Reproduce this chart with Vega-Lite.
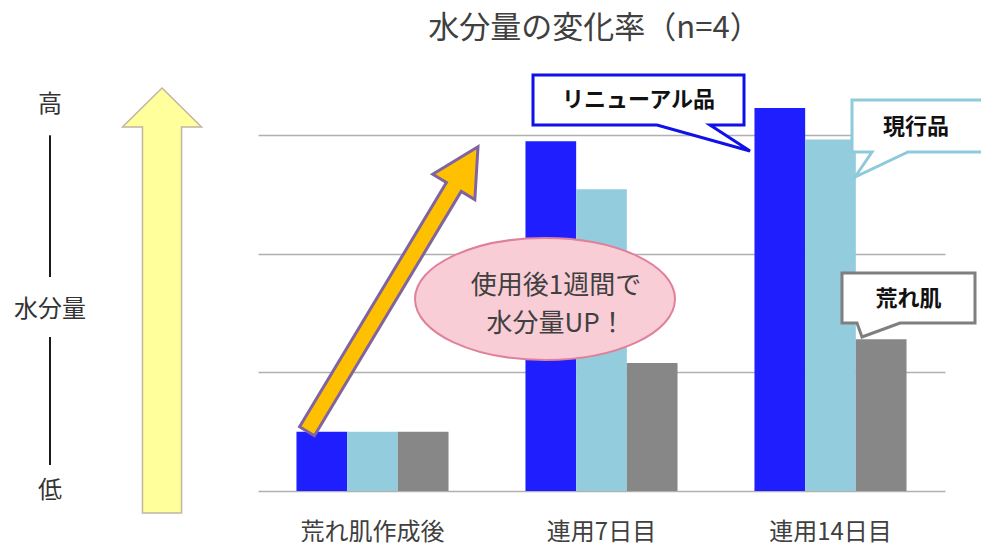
{
  "$schema": "https://vega.github.io/schema/vega-lite/v6.json",
  "width": 687,
  "height": 415,
  "autosize": {"type": "none"},
  "padding": {"left": 258, "top": 76, "right": 36, "bottom": 60},
  "background": "white",
  "config": {"view": {"stroke": null}, "font": "Noto Sans CJK JP"},
  "title": {"text": "水分量の変化率（n=4）", "anchor": "middle", "frame": "group", "fontSize": 31, "fontWeight": "normal", "color": "#404040", "font": "Noto Sans CJK JP", "offset": 24, "dx": -7},
  "layer": [
    {
      "data": {"values": [
        {"timepoint": "荒れ肌作成後", "product": "リニューアル品", "value": 0.5},
        {"timepoint": "荒れ肌作成後", "product": "現行品", "value": 0.5},
        {"timepoint": "荒れ肌作成後", "product": "荒れ肌", "value": 0.5},
        {"timepoint": "連用7日目", "product": "リニューアル品", "value": 2.95},
        {"timepoint": "連用7日目", "product": "現行品", "value": 2.545},
        {"timepoint": "連用7日目", "product": "荒れ肌", "value": 1.08},
        {"timepoint": "連用14日目", "product": "リニューアル品", "value": 3.23},
        {"timepoint": "連用14日目", "product": "現行品", "value": 2.965},
        {"timepoint": "連用14日目", "product": "荒れ肌", "value": 1.28}
      ]},
      "mark": {"type": "bar"},
      "encoding": {
        "x": {"field": "timepoint", "type": "nominal", "sort": ["荒れ肌作成後", "連用7日目", "連用14日目"],
              "scale": {"paddingInner": 0.336, "paddingOuter": 0.168},
              "axis": {"title": null, "labelAngle": 0, "ticks": false, "domain": false, "labelFontSize": 24, "labelColor": "#404040", "labelFont": "Noto Sans CJK JP", "labelPadding": 41, "labelBaseline": "middle"}},
        "xOffset": {"field": "product", "type": "nominal", "sort": ["リニューアル品", "現行品", "荒れ肌"]},
        "y": {"field": "value", "type": "quantitative", "title": null, "scale": {"domain": [0, 3.5], "nice": false},
              "axis": {"title": null, "values": [0, 1, 2, 3], "labels": false, "ticks": false, "domain": false, "grid": true, "gridColor": "#b0b0b0", "gridWidth": 1.5, "minExtent": 0}},
        "color": {"field": "product", "type": "nominal", "sort": ["リニューアル品", "現行品", "荒れ肌"],
                  "scale": {"domain": ["リニューアル品", "現行品", "荒れ肌"], "range": ["#1e1eff", "#93cddd", "#878787"]}, "legend": null}
      }
    },
    {
      "data": {"values": [
        {"x": -0.9083, "y": 3.0, "y2": 1.8048},
        {"x": -0.9083, "y": 1.2988, "y2": 0.2193}
      ]},
      "mark": {"type": "rule", "stroke": "#1a1a1a", "strokeWidth": 2},
      "encoding": {
        "x": {"field": "x", "type": "quantitative", "scale": {"domain": [0, 3], "nice": false, "zero": false}, "axis": null},
        "y": {"field": "y", "type": "quantitative", "title": null},
        "y2": {"field": "y2"}
      }
    },
    {
      "data": {"values": [{"x": -0.4192, "y": 1.6067}]},
      "mark": {"type": "point", "filled": true, "fill": "#ffff9c", "stroke": "#c4b4a4", "strokeWidth": 1.5, "opacity": 1, "size": 180625,
               "shape": "M0,-1 L0.186,-0.816 L0.092,-0.816 L0.092,1 L-0.092,1 L-0.092,-0.816 L-0.186,-0.816 Z"},
      "encoding": {
        "x": {"field": "x", "type": "quantitative", "scale": {"domain": [0, 3], "nice": false, "zero": false}, "axis": null},
        "y": {"field": "y", "type": "quantitative", "title": null}
      }
    },
    {
      "data": {"values": [{"x": 1.2533, "y": 1.6193}]},
      "mark": {"type": "point", "filled": true, "fill": "#f8cdd6", "stroke": "#e0809a", "strokeWidth": 2, "opacity": 1, "size": 67600,
               "shape": "M1,0 A1,0.469 0 1,1 -1,0 A1,0.469 0 1,1 1,0 Z"},
      "encoding": {
        "x": {"field": "x", "type": "quantitative", "scale": {"domain": [0, 3], "nice": false, "zero": false}, "axis": null},
        "y": {"field": "y", "type": "quantitative", "title": null}
      }
    },
    {
      "data": {"values": [{"x": 0.5873, "y": 1.7036}]},
      "mark": {"type": "point", "filled": true, "fill": "#ffc000", "stroke": "#8064a2", "strokeWidth": 3, "opacity": 1, "size": 110224, "angle": 31,
               "shape": "M0,-1 L0.148,-0.717 L0.052,-0.717 L0.052,1 L-0.052,1 L-0.052,-0.717 L-0.148,-0.717 Z"},
      "encoding": {
        "x": {"field": "x", "type": "quantitative", "scale": {"domain": [0, 3], "nice": false, "zero": false}, "axis": null},
        "y": {"field": "y", "type": "quantitative", "title": null}
      }
    },
    {
      "data": {"values": [{"x": 1.6616, "y": 3.2976}]},
      "mark": {"type": "point", "filled": true, "fill": "white", "stroke": "#1010e8", "strokeWidth": 3, "opacity": 1, "size": 400,
               "shape": "M-10.55,-2.5 L10.55,-2.5 L10.55,2.5 L7.15,2.5 L11.15,5.1 L1.85,2.5 L-10.55,2.5 Z"},
      "encoding": {
        "x": {"field": "x", "type": "quantitative", "scale": {"domain": [0, 3], "nice": false, "zero": false}, "axis": null},
        "y": {"field": "y", "type": "quantitative", "title": null}
      }
    },
    {
      "data": {"values": [{"x": 2.8734, "y": 3.0783}]},
      "mark": {"type": "point", "filled": true, "fill": "white", "stroke": "#8fcadb", "strokeWidth": 3, "opacity": 1, "size": 400,
               "shape": "M9,-2.6 L-6.4,-2.6 L-6.4,2.6 L-4.4,2.6 L-6.1,5.1 L-0.8,2.6 L9,2.6"},
      "encoding": {
        "x": {"field": "x", "type": "quantitative", "scale": {"domain": [0, 3], "nice": false, "zero": false}, "axis": null},
        "y": {"field": "y", "type": "quantitative", "title": null}
      }
    },
    {
      "data": {"values": [{"x": 2.8406, "y": 1.6277}]},
      "mark": {"type": "point", "filled": true, "fill": "white", "stroke": "#7f7f7f", "strokeWidth": 3, "opacity": 1, "size": 400,
               "shape": "M-6.65,-2.5 L6.65,-2.5 L6.65,2.5 L-0.85,2.5 L-4.65,3.9 L-5.15,2.5 L-6.65,2.5 Z"},
      "encoding": {
        "x": {"field": "x", "type": "quantitative", "scale": {"domain": [0, 3], "nice": false, "zero": false}, "axis": null},
        "y": {"field": "y", "type": "quantitative", "title": null}
      }
    },
    {
      "data": {"values": [
        {"label": "リニューアル品", "x": 1.6616, "y": 3.2976},
        {"label": "現行品", "x": 2.8734, "y": 3.07},
        {"label": "荒れ肌", "x": 2.8406, "y": 1.62}
      ]},
      "mark": {"type": "text", "font": "Noto Sans CJK JP", "fontSize": 22, "fontWeight": "bold", "color": "#111111", "align": "center", "baseline": "middle"},
      "encoding": {
        "x": {"field": "x", "type": "quantitative", "scale": {"domain": [0, 3], "nice": false, "zero": false}, "axis": null},
        "y": {"field": "y", "type": "quantitative", "title": null},
        "text": {"field": "label"}
      }
    },
    {
      "data": {"values": [
        {"label": "使用後1週間で", "x": 1.3013, "y": 1.7289},
        {"label": "水分量UP！", "x": 1.3013, "y": 1.4084}
      ]},
      "mark": {"type": "text", "font": "Noto Sans CJK JP", "fontSize": 26, "fontWeight": "normal", "color": "#404040", "align": "center", "baseline": "middle"},
      "encoding": {
        "x": {"field": "x", "type": "quantitative", "scale": {"domain": [0, 3], "nice": false, "zero": false}, "axis": null},
        "y": {"field": "y", "type": "quantitative", "title": null},
        "text": {"field": "label"}
      }
    },
    {
      "data": {"values": [
        {"label": "高", "x": -0.9083, "y": 3.2554},
        {"label": "水分量", "x": -0.9083, "y": 1.5265},
        {"label": "低", "x": -0.9083, "y": 0.0}
      ]},
      "mark": {"type": "text", "font": "Noto Sans CJK JP", "fontSize": 24, "fontWeight": "normal", "color": "#333333", "align": "center", "baseline": "middle"},
      "encoding": {
        "x": {"field": "x", "type": "quantitative", "scale": {"domain": [0, 3], "nice": false, "zero": false}, "axis": null},
        "y": {"field": "y", "type": "quantitative", "title": null},
        "text": {"field": "label"}
      }
    }
  ],
  "resolve": {"scale": {"x": "independent"}}
}
